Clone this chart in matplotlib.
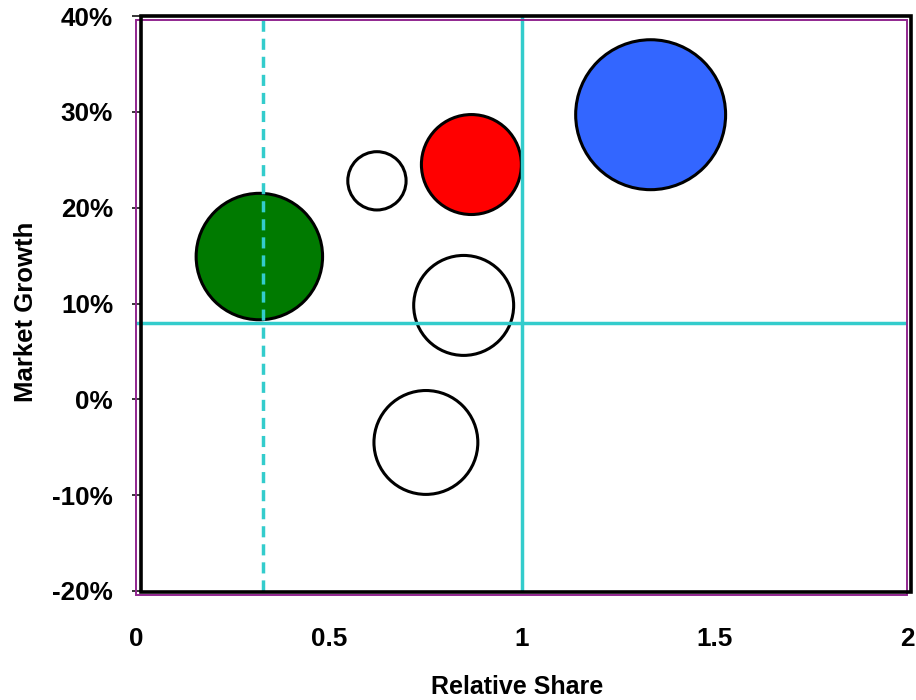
import matplotlib
matplotlib.use('Agg')
import matplotlib.pyplot as plt
from matplotlib.patches import Rectangle
from matplotlib.ticker import FuncFormatter

plt.rcParams['font.family'] = ['Liberation Sans', 'DejaVu Sans']

# portfolio bubbles: relative share, market growth (%), size, colour
rel_share = [0.32, 0.625, 0.87, 1.335, 0.85, 0.752]
growth = [14.9, 22.8, 24.5, 29.7, 9.8, -4.5]
size = [160, 34, 100, 225, 100, 108]
colors = ['#007A00', 'white', '#FF0000', '#3366FF', 'white', 'white']

# quadrant dividers
share_split = 1.0
share_mark = 0.33
growth_split = 8.0

x_ticks = [0, 0.5, 1, 1.5, 2]
x_labels = ['0', '0.5', '1', '1.5', '2']
y_ticks = [-20, -10, 0, 10, 20, 30, 40]

W, H = 916, 700
fig = plt.figure(figsize=(W / 100, H / 100), dpi=100)
ax = fig.add_axes([136 / W, (H - 591) / H, 771 / W, 575 / H])

ax.scatter(rel_share, growth, s=[v * 51.8 for v in size], c=colors,
           edgecolors='black', linewidths=2.2, zorder=2, clip_on=False)

cyan = '#33CCCC'
ax.axvline(share_split, color=cyan, lw=2.5, zorder=3)
ax.axvline(share_mark, color=cyan, lw=2.5, ls=(0, (3.2, 2.0)), zorder=3)
ax.axhline(growth_split, color=cyan, lw=2.5, zorder=3)

ax.set_xlim(0, 2)
ax.set_ylim(-20, 40)
ax.set_xticks(x_ticks)
ax.set_xticklabels(x_labels)
ax.set_yticks(y_ticks)
ax.yaxis.set_major_formatter(FuncFormatter(lambda v, p: f'{v:.0f}%'))

fs = 18.8
for s in ax.spines.values():
    s.set_visible(False)
ax.tick_params(axis='x', length=0, pad=26, labelsize=fs)
ax.tick_params(axis='y', direction='inout', length=5.8, width=1.1, pad=13.5, labelsize=fs)
for lbl in ax.get_xticklabels() + ax.get_yticklabels():
    lbl.set_fontweight('bold')

ax.set_xlabel('Relative Share', fontsize=18, fontweight='bold')
ax.set_ylabel('Market Growth', fontsize=18.5, fontweight='bold')
ax.xaxis.set_label_coords(0.494, -0.146)
ax.yaxis.set_label_coords(-0.127, 0.486)

# plot area border with offset outline
fig.add_artist(Rectangle((136 / W, (H - 595) / H), 771 / W, 575 / H,
                         transform=fig.transFigure, fill=False,
                         edgecolor='#92278F', lw=1.4, zorder=5))
fig.add_artist(Rectangle((141 / W, (H - 592) / H), 770 / W, 576 / H,
                         transform=fig.transFigure, fill=False,
                         edgecolor='black', lw=2.6, zorder=6))

fig.savefig('out.png', dpi=100)
